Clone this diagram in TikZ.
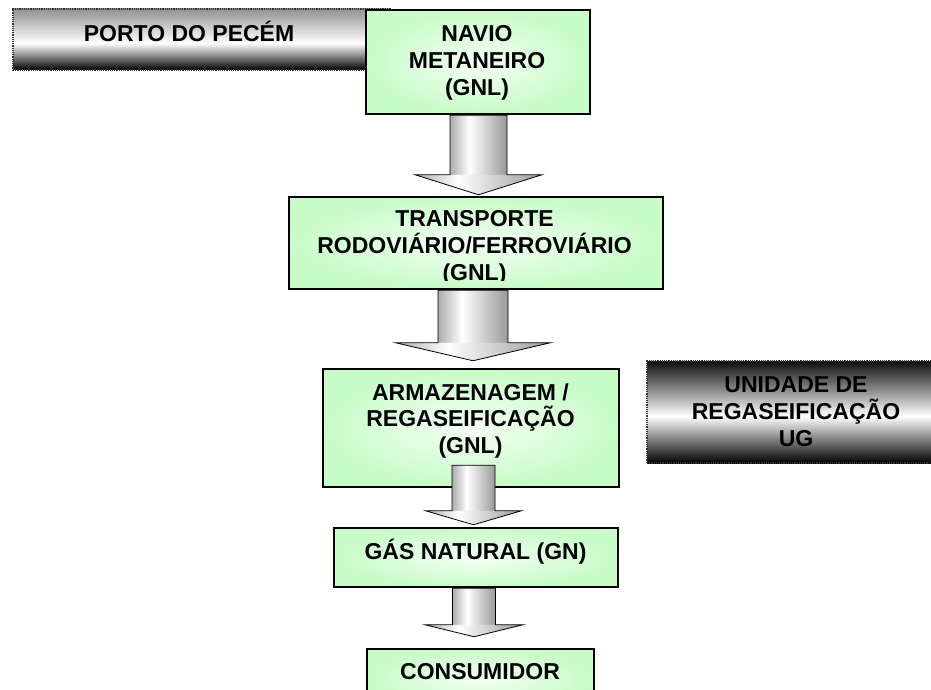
\documentclass[tikz,border=0pt]{standalone}
\usepackage{fontspec}
\setmainfont{Liberation Sans}
\usepackage{tikz}
\usetikzlibrary{calc,positioning}
\definecolor{palegreen}{HTML}{C8FCC8}
\definecolor{glowgreen}{HTML}{F4FFF4}
\pgfdeclarehorizontalshading{arrowshade}{100bp}{color(0bp)=(gray!65); color(25bp)=(gray!65); color(42bp)=(white); color(75bp)=(gray!80); color(100bp)=(gray!80)}
\pgfdeclareverticalshading{portoshade}{100bp}{color(0bp)=(black); color(25bp)=(black); color(47bp)=(white); color(75bp)=(gray!85); color(100bp)=(gray!85)}
\pgfdeclareverticalshading{ugshade}{100bp}{color(0bp)=(black); color(25bp)=(black); color(48bp)=(white); color(75bp)=(black!95); color(100bp)=(black!95)}
\tikzset{
  greenbox/.style={draw=black, line width=2.5pt, inner color=glowgreen, outer color=palegreen, inner sep=0pt},
  banner/.style={draw=black!80, densely dotted, line width=1.2pt, inner sep=0pt},
  boxtext/.style={font=\bfseries\fontsize{23}{26.7}\selectfont, align=center, inner sep=0pt},
  arrowline/.style={draw=black, line width=0.8pt, line join=miter}
}
\newcommand{\blockarrow}[5]{%
  \shade[shading=arrowshade] ($(#1)+(-#3,0)$) rectangle ($(#2)+(#3,-#5)$);
  \shade[shading=arrowshade] ($(#2)+(-#4,-#5)$) -- (#2) -- ($(#2)+(#4,-#5)$) -- cycle;
  \draw[arrowline] ($(#1)+(-#3,0)$) -- ($(#2)+(-#3,-#5)$) -- ($(#2)+(-#4,-#5)$) -- (#2) -- ($(#2)+(#4,-#5)$) -- ($(#2)+(#3,-#5)$) -- ($(#1)+(#3,0)$) -- cycle;
}
\begin{document}
\begin{tikzpicture}[x=1pt,y=-1pt]
			\useasboundingbox (0,0) rectangle (931,690);
			\clip (0,0) rectangle (931,690);
			\node[banner, shading=portoshade, minimum width=377pt, minimum height=61pt] (porto) at (201.5,39.5) {};
			\node[banner, shading=ugshade, minimum width=298pt, minimum height=102pt] (ug) at (796,412) {};
			\node[greenbox, minimum width=224pt, minimum height=104pt] (navio) at (478,62) {};
			\node[greenbox, minimum width=374pt, minimum height=92pt] (transport) at (476,243) {};
			\node[greenbox, minimum width=296pt, minimum height=118pt] (armaz) at (471,428) {};
			\node[greenbox, minimum width=284pt, minimum height=59pt] (gn) at (476,557.5) {};
			\node[greenbox, minimum width=227pt, minimum height=59pt] (cons) at (480.5,678.5) {};
			\node[boxtext] (portoTxt) at (189,31.3) {PORTO DO PECÉM};
			\node[boxtext] (ugTxt) at (796,411.5) {UNIDADE DE\\REGASEIFICAÇÃO\\UG};
			\node[boxtext] (navioTxt) at (477,62.8) {NAVIO\\METANEIRO\\(GNL)};
			\begin{scope}
			\clip (288,196) rectangle (664,280);
			\node[boxtext] (transportTxt) at (474.5,247.8) {TRANSPORTE\\RODOVIÁRIO/FERROVIÁRIO\\(GNL)};
			\end{scope}
			\node[boxtext] (armazTxt) at (470.5,420.8) {ARMAZENAGEM /\\REGASEIFICAÇÃO\\(GNL)};
			\node[boxtext] (gnTxt) at (475.5,551.7) {GÁS NATURAL (GN)};
			\node[boxtext] (consTxt) at (480,672) {CONSUMIDOR};
			\coordinate (a1s) at ($(navio.south)+(0.5,0)$);
			\coordinate (a1e) at ($(a1s |- transport.north)+(0,-1)$);
			\coordinate (a2s) at ($(transport.south)+(-3,0)$);
			\coordinate (a2e) at ($(a2s |- armaz.north)+(0,-7)$);
			\coordinate (a3s) at ($(armaz.south)+(2.5,-23)$);
			\coordinate (a3e) at ($(a3s |- gn.north)+(0,-2)$);
			\coordinate (a4s) at ($(gn.south)+(-2,0)$);
			\coordinate (a4e) at ($(a4s |- cons.north)+(0,-11)$);
			\blockarrow{a1s}{a1e}{28.5}{63.5}{20}
			\blockarrow{a2s}{a2e}{35}{77.5}{18}
			\blockarrow{a3s}{a3e}{21.5}{48}{14}
			\blockarrow{a4s}{a4e}{21.5}{49}{12}
\end{tikzpicture}
\end{document}
